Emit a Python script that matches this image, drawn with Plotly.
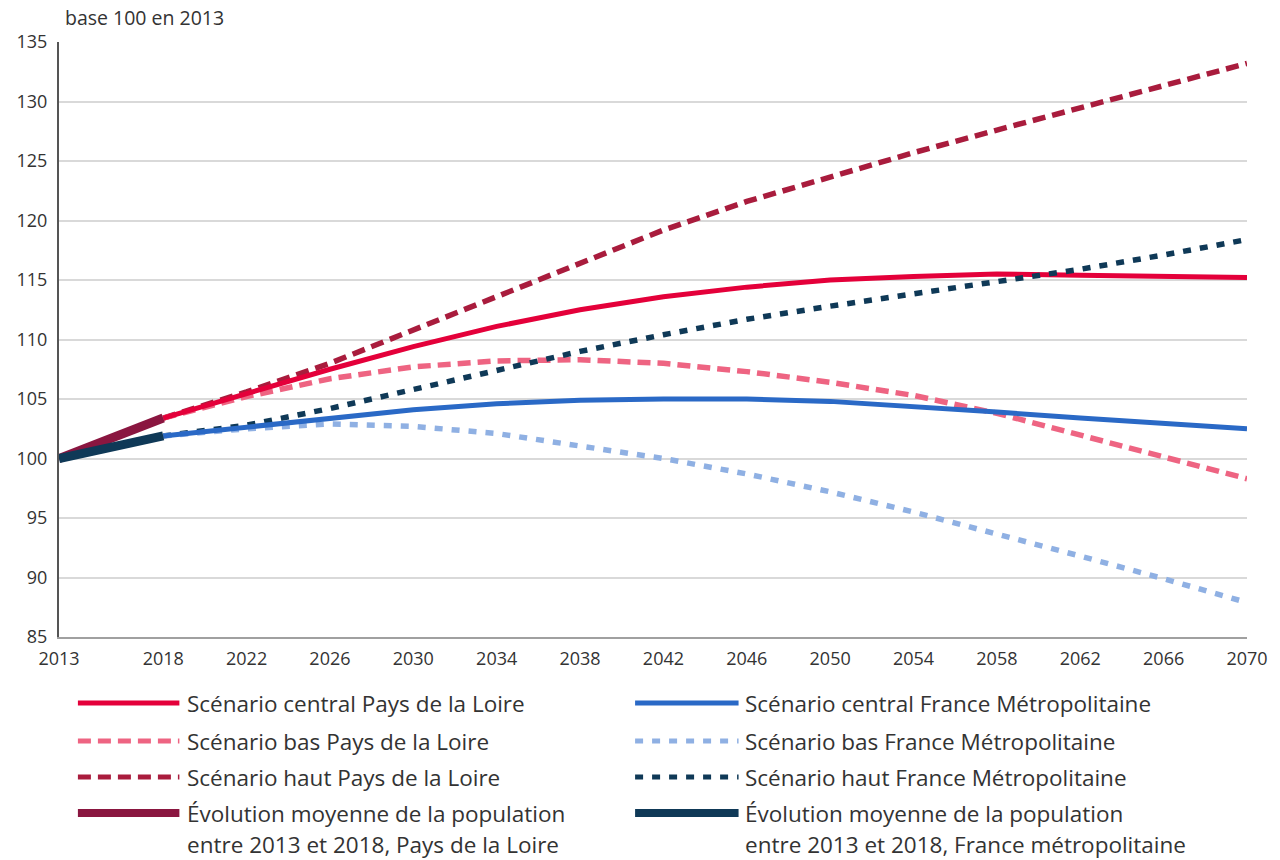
import plotly.graph_objects as go

years = [2018, 2022, 2026, 2030, 2034, 2038, 2042, 2046, 2050, 2054, 2058, 2062, 2066, 2070]

central_pdl = [103.4, 105.5, 107.5, 109.4, 111.1, 112.5, 113.6, 114.4, 115.0, 115.3, 115.5, 115.4, 115.3, 115.2]
bas_pdl = [103.4, 105.2, 106.7, 107.7, 108.2, 108.3, 108.0, 107.3, 106.4, 105.3, 103.8, 102.0, 100.2, 98.3]
haut_pdl = [103.4, 105.6, 108.0, 110.8, 113.7, 116.5, 119.2, 121.6, 123.7, 125.7, 127.6, 129.5, 131.3, 133.2]

central_fr = [101.9, 102.6, 103.4, 104.1, 104.6, 104.9, 105.0, 105.0, 104.8, 104.4, 103.9, 103.4, 102.9, 102.5]
bas_fr = [101.9, 102.5, 102.9, 102.7, 102.1, 101.1, 100.0, 98.7, 97.2, 95.5, 93.7, 91.8, 89.9, 87.9]
haut_fr = [101.9, 102.8, 104.2, 105.8, 107.4, 109.0, 110.4, 111.7, 112.8, 113.8, 114.8, 115.9, 117.1, 118.4]

evol_years = [2013, 2018]
evol_pdl = [100.0, 103.4]
evol_fr = [100.0, 101.9]

x_ticks = [2013, 2018, 2022, 2026, 2030, 2034, 2038, 2042, 2046, 2050, 2054, 2058, 2062, 2066, 2070]
y_ticks = [85, 90, 95, 100, 105, 110, 115, 120, 125, 130, 135]

series = [
    # name lines, x, y, color, width, dash, legend col, legend row
    (["Scénario central Pays de la Loire"], years, central_pdl, "#E4003A", 5, "solid", 0, 0),
    (["Scénario central France Métropolitaine"], years, central_fr, "#2A69C6", 5, "solid", 1, 0),
    (["Scénario bas Pays de la Loire"], years, bas_pdl, "#EE6482", 5.5, "13px,7px", 0, 1),
    (["Scénario bas France Métropolitaine"], years, bas_fr, "#8FB0E3", 5.5, "8px,9px", 1, 1),
    (["Scénario haut Pays de la Loire"], years, haut_pdl, "#A91C3D", 5.5, "13px,7px", 0, 2),
    (["Scénario haut France Métropolitaine"], years, haut_fr, "#0F3957", 5.5, "8px,9px", 1, 2),
    (["Évolution moyenne de la population", "entre 2013 et 2018, Pays de la Loire"], evol_years, evol_pdl, "#8A1640", 9, "solid", 0, 3),
    (["Évolution moyenne de la population", "entre 2013 et 2018, France métropolitaine"], evol_years, evol_fr, "#0F3957", 9, "solid", 1, 3),
]

fig = go.Figure()

draw_order = [4, 2, 0, 5, 3, 1, 6, 7]
for i in draw_order:
    names, xs, ys, color, width, dash, col, row = series[i]
    fig.add_trace(go.Scatter(
        x=xs, y=ys, mode="lines", name=" ".join(names),
        line=dict(color=color, width=width, dash=dash),
        showlegend=False, hoverinfo="skip",
    ))

W, H = 1280, 860
# plot area in page pixels: x 59..1253, y 42..637
L, T = 59, 42
R = W - 1253
B = H - 637
pw, ph = W - L - R, H - T - B


def px2paper(px, py):
    return (px - L) / pw, (H - B - py) / ph


shapes = []
annotations = []
col_line_x = [(78, 180), (638, 742)]
col_text_x = [186, 746]
row_y = [703, 741, 777, 813]
line_gap = 31
for names, xs, ys, color, width, dash, col, row in series:
    x0, y0 = px2paper(col_line_x[col][0], row_y[row])
    x1, _ = px2paper(col_line_x[col][1], row_y[row])
    lw = 5 if width < 8 else 8
    shapes.append(dict(type="line", xref="paper", yref="paper", x0=x0, x1=x1, y0=y0, y1=y0,
                       line=dict(color=color, width=lw, dash=dash)))
    for k, txt in enumerate(names):
        tx, ty = px2paper(col_text_x[col], row_y[row] + k * line_gap)
        annotations.append(dict(text=txt, xref="paper", yref="paper", x=tx, y=ty,
                                xanchor="left", yanchor="middle", showarrow=False,
                                font=dict(size=22.5, color="#333333")))

tx, ty = px2paper(63, 18)
annotations.append(dict(text="base 100 en 2013", xref="paper", yref="paper", x=tx, y=ty,
                        xanchor="left", yanchor="middle", showarrow=False,
                        font=dict(size=19.5, color="#333333")))

fig.update_layout(
    width=W, height=H,
    margin=dict(l=L, r=R, t=T, b=B),
    paper_bgcolor="white", plot_bgcolor="white",
    font=dict(family="Open Sans, sans-serif", color="#333333"),
    shapes=shapes, annotations=annotations,
    showlegend=False,
    xaxis=dict(range=[2013, 2070], tickvals=x_ticks, ticktext=[str(v) for v in x_ticks],
               showgrid=False, zeroline=False, showline=True, linecolor="#A0A0A0", linewidth=2,
               ticks="", ticklabelstandoff=4, tickfont=dict(size=18, color="#333333")),
    yaxis=dict(range=[85, 135], tickvals=y_ticks, showgrid=True, gridcolor="#D9D9D9", gridwidth=1.5,
               zeroline=False, showline=True, linecolor="#555555", linewidth=2,
               ticks="", ticklabelstandoff=6, tickfont=dict(size=18, color="#333333")),
)

fig.write_html("out.html", config={"displayModeBar": False},
               post_script="document.body.style.margin='0';document.body.style.overflow='hidden';")
